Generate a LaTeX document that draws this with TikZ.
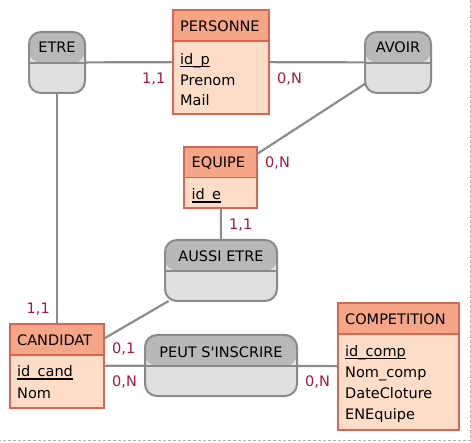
\documentclass[tikz,border=0pt]{standalone}
\usepackage{fontspec}
\setmainfont{DejaVu Sans}[Ligatures=TeXOff]
\definecolor{entHead}{RGB}{244,166,135}
\definecolor{entBody}{RGB}{253,220,200}
\definecolor{entLine}{RGB}{221,100,80}
\definecolor{asHead}{RGB}{184,184,184}
\definecolor{asBody}{RGB}{224,224,224}
\definecolor{asLine}{RGB}{138,138,138}
\definecolor{conLine}{RGB}{140,140,140}
\definecolor{card}{RGB}{170,20,70}
\pgfdeclarelayer{bg}
\pgfsetlayers{bg,main}
\begin{document}
\begin{tikzpicture}[x=1pt,y=-1pt,
  font=\fontsize{14.5}{17}\selectfont,
  entity/.style={rectangle, draw=entLine, fill=entBody, line width=2pt, outer sep=0pt, inner sep=0pt,
    path picture={\fill[entHead] (path picture bounding box.north west) rectangle ([yshift=-31pt]path picture bounding box.north east);
      \draw[entLine, line width=1.6pt] ([yshift=-31pt]path picture bounding box.north west) -- ([yshift=-31pt]path picture bounding box.north east);}},
  assoc/.style={rectangle, rounded corners=12pt, draw=asLine, fill=asBody, line width=2pt, outer sep=0pt, inner sep=0pt,
    path picture={\fill[asHead] (path picture bounding box.north west) rectangle ([yshift=-31pt]path picture bounding box.north east);
      \draw[asLine, line width=1.6pt] ([yshift=-31pt]path picture bounding box.north west) -- ([yshift=-31pt]path picture bounding box.north east);}},
  txt/.style={inner sep=0pt, anchor=base west},
  ctxt/.style={inner sep=0pt, anchor=base},
  cardlbl/.style={inner sep=0pt, anchor=base west, text=card},
  conn/.style={draw=conLine, line width=2.2pt},
  uline/.style={draw=black, line width=1.1pt}]
\useasboundingbox (0,0) rectangle (471,443);
\draw[color=black!30, line width=0.8pt, dash pattern=on 3pt off 2pt] (470.5,0) -- (470.5,440.5) -- (0,440.5);

% entities
\node[entity, minimum width=96pt, minimum height=104pt] (personne) at (221,62) {};
\node[entity, minimum width=73pt, minimum height=61.6pt] (equipe) at (220.8,177.5) {};
\node[entity, minimum width=94pt, minimum height=84pt] (candidat) at (57,366) {};
\node[entity, minimum width=121pt, minimum height=127pt] (competition) at (398.5,366.5) {};

% associations
\node[assoc, minimum width=56pt, minimum height=61pt] (etre) at (57,62.5) {};
\node[assoc, minimum width=66pt, minimum height=61pt] (avoir) at (398,62.5) {};
\node[assoc, minimum width=112pt, minimum height=61pt] (aussi) at (221,270.5) {};
\node[assoc, minimum width=152pt, minimum height=61pt] (peut) at (221,365.5) {};

% texts
\node[txt] (personneT) at (180,32) {PERSONNE};
\node[txt] (idp) at (180,64.5) {id\_p};
\node[txt] (prenom) at (180,85.5) {Prenom};
\node[txt] (mail) at (180,106) {Mail};

\node[txt] (equipeT) at (191.5,168) {EQUIPE};
\node[txt] (ide) at (191.5,200) {id\_e};

\node[txt] (candidatT) at (17,346) {CANDIDAT};
\node[txt] (idcand) at (17,377) {id\_cand};
\node[txt] (nom) at (17,398) {Nom};

\node[txt] (competitionT) at (345,325) {COMPETITION};
\node[txt] (idcomp) at (345,356.5) {id\_comp};
\node[txt] (nomcomp) at (345,377.5) {Nom\_comp};
\node[txt] (datecl) at (345,398.5) {DateCloture};
\node[txt] (enequipe) at (345,419.5) {ENEquipe};

\node[ctxt] (etreT) at (57,53) {ETRE};
\node[ctxt] (avoirT) at (398,53) {AVOIR};
\node[ctxt] (aussiT) at (221,262) {AUSSI ETRE};
\node[ctxt] (peutT) at (221,357) {PEUT S'INSCRIRE};

% underlines of identifiers
\draw[uline] ([yshift=-2pt]idp.base west) -- ([yshift=-2pt]idp.base east);
\draw[uline] ([yshift=-2pt]ide.base west) -- ([yshift=-2pt]ide.base east);
\draw[uline] ([yshift=-2pt]idcand.base west) -- ([yshift=-2pt]idcand.base east);
\draw[uline] ([yshift=-2pt]idcomp.base west) -- ([yshift=-2pt]idcomp.base east);

% cardinalities
\node[cardlbl] (c1) at (142,84) {1,1};
\node[cardlbl] (c2) at (277,84) {0,N};
\node[cardlbl] (c3) at (265,168) {0,N};
\node[cardlbl] (c4) at (229,230) {1,1};
\node[cardlbl] (c5) at (26.5,314) {1,1};
\node[cardlbl] (c6) at (112,354) {0,1};
\node[cardlbl] (c7) at (112,386.7) {0,N};
\node[cardlbl] (c8) at (305,386.7) {0,N};

% connectors
\begin{pgfonlayer}{bg}
\draw[conn] (etre) -- (personne);
\draw[conn] (personne) -- (avoir);
\draw[conn] (equipe) -- (avoir);
\draw[conn] (equipe) -- (aussi);
\draw[conn] (etre) -- (candidat);
\draw[conn] (candidat) -- (aussi);
\draw[conn] (candidat) -- (peut);
\draw[conn] (peut) -- (competition);
\end{pgfonlayer}
\end{tikzpicture}
\end{document}
